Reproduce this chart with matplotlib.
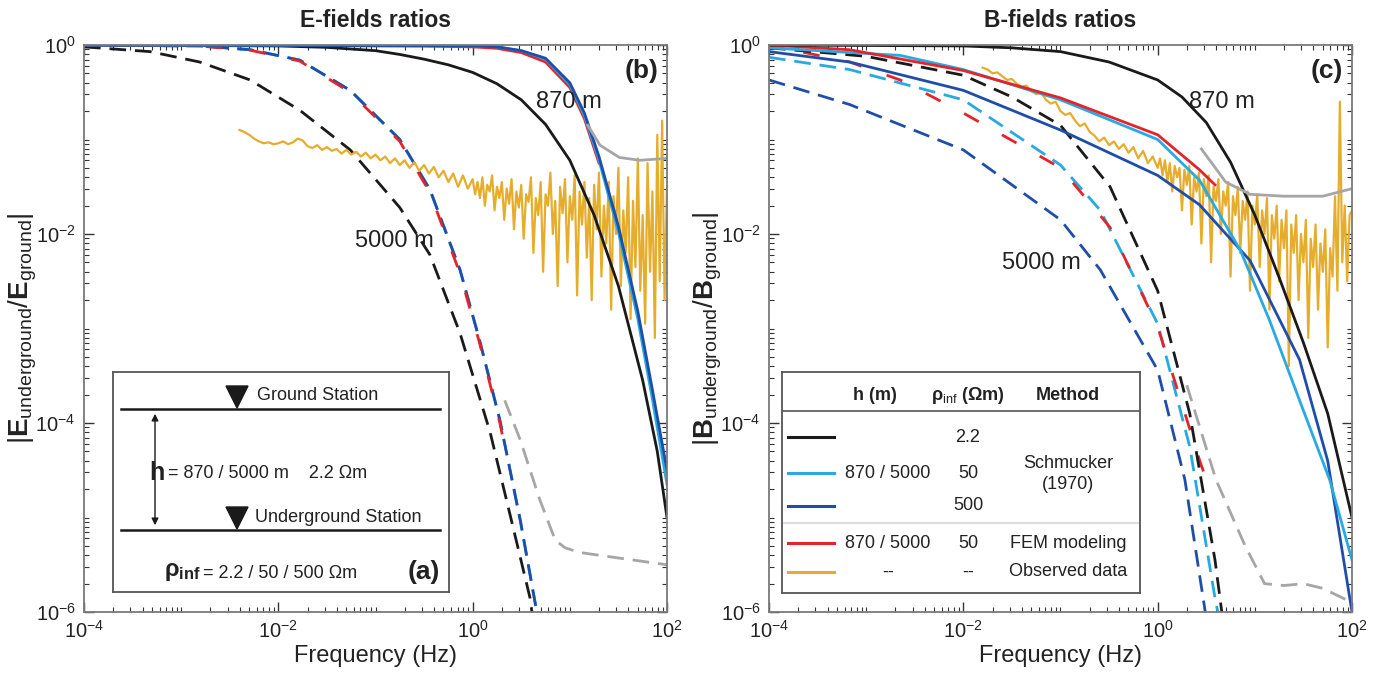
import numpy as np
import matplotlib
matplotlib.use("Agg")
import matplotlib.pyplot as plt
from matplotlib.ticker import FixedLocator, NullFormatter, LogFormatterSciNotation
from matplotlib.patches import Polygon

plt.rcParams['font.family'] = ['Liberation Sans', 'DejaVu Sans']
plt.rcParams['mathtext.fontset'] = 'custom'
plt.rcParams['mathtext.rm'] = 'Liberation Sans'
plt.rcParams['mathtext.it'] = 'Liberation Sans:italic'
plt.rcParams['mathtext.bf'] = 'Liberation Sans:bold'

C_BLACK = '#1a1a1a'
C_LBLUE = '#29a9e1'
C_BLUE = '#1f4ea8'
C_RED = '#e5232a'
C_ORANGE = '#e6ad2c'
C_GRAY = '#a6a6a6'

# tick values
X_MAJOR = [1e-4, 1e-2, 1e0, 1e2]
Y_MAJOR = [1e-6, 1e-4, 1e-2, 1e0]

# ================= E-field panel (log10 frequency, log10 ratio) =================
E_sol_blk_lf = [-4, -2, -1.5, -1, -0.75, -0.5, -0.25, 0, 0.25, 0.5, 0.75, 1.0, 1.25, 1.5, 1.75, 1.9, 2.0]
E_sol_blk_lv = [0, -0.01, -0.025, -0.06, -0.1, -0.15, -0.21, -0.29, -0.41, -0.58, -0.84, -1.22, -1.8,
                -2.55, -3.55, -4.3, -5.0]
E_sol_blu_lf = [-4, 0, 0.25, 0.5, 0.75, 1.0, 1.15, 1.3, 1.5, 1.7, 1.85, 2.0]
E_sol_blu_lv = [0, -0.01, -0.02, -0.06, -0.14, -0.4, -0.72, -1.18, -1.92, -2.82, -3.65, -4.5]
E_sol_lbl_lv = [0, -0.01, -0.02, -0.06, -0.15, -0.42, -0.75, -1.22, -1.98, -2.9, -3.75, -4.65]
E_sol_red_lf = [-4, -0.5, 0, 0.25, 0.5, 0.75, 1.0, 1.15, 1.3]
E_sol_red_lv = [0, -0.01, -0.02, -0.035, -0.08, -0.18, -0.45, -0.78, -1.25]
E_sol_gry_lf = [1.185, 1.31, 1.51, 1.72, 2.0]
E_sol_gry_lv = [-0.85, -1.06, -1.19, -1.22, -1.2]

E_das_blk_lf = [-4, -3.32, -2.81, -2.29, -1.78, -1.26, -0.75, -0.44, -0.13, 0.18, 0.38, 0.59, 0.61]
E_das_blk_lv = [-0.02, -0.07, -0.18, -0.37, -0.69, -1.11, -1.72, -2.22, -3.05, -4.1, -4.95, -5.85, -6.0]
E_das_col_lf = [-4, -2.8, -2.29, -1.78, -1.26, -0.75, -0.44, -0.13, 0.07, 0.28, 0.49, 0.66]
E_das_blu_lv = [0, -0.01, -0.05, -0.16, -0.48, -1.0, -1.53, -2.38, -3.12, -3.97, -5.03, -6.0]
E_das_lbl_lv = [0, -0.01, -0.05, -0.16, -0.48, -1.0, -1.53, -2.38, -3.12, -3.97, -5.03, -6.0]
E_das_red_lf = [-4, -2.8, -2.29, -1.78, -1.26, -0.75, -0.44, -0.13, 0.07, 0.28, 0.33]
E_das_red_lv = [0, -0.012, -0.055, -0.17, -0.5, -1.02, -1.56, -2.42, -3.15, -4.0, -4.25]
E_das_gry_lf = [0.33, 0.49, 0.69, 0.85, 0.95, 1.1, 1.51, 2.0]
E_das_gry_lv = [-3.76, -4.18, -4.81, -5.24, -5.32, -5.37, -5.43, -5.5]

E_obs_lf = [-2.40, -2.35, -2.30, -2.25, -2.20, -2.15, -2.10, -2.05, -2.00, -1.95, -1.90, -1.85,
            -1.80, -1.75, -1.70, -1.65, -1.60, -1.55, -1.50, -1.45, -1.40, -1.35, -1.30, -1.25,
            -1.20, -1.15, -1.10, -1.05, -1.00, -0.95, -0.90, -0.85, -0.80, -0.75, -0.70, -0.65,
            -0.60, -0.55, -0.50, -0.45, -0.40, -0.35, -0.30, -0.25, -0.20, -0.15, -0.10, -0.05,
            0.000, 0.025, 0.050, 0.075, 0.100, 0.125, 0.150, 0.175, 0.200, 0.225, 0.250, 0.275,
            0.300, 0.325, 0.350, 0.375, 0.400, 0.425, 0.450, 0.475, 0.500, 0.525, 0.550, 0.575,
            0.600, 0.625, 0.650, 0.675, 0.700, 0.725, 0.750, 0.775, 0.800, 0.825, 0.850, 0.875,
            0.900, 0.925, 0.950, 0.975, 1.000, 1.025, 1.050, 1.075, 1.100, 1.125, 1.150, 1.175,
            1.200, 1.225, 1.250, 1.275, 1.300, 1.325, 1.350, 1.375, 1.400, 1.425, 1.450, 1.475,
            1.500, 1.525, 1.550, 1.575, 1.600, 1.625, 1.650, 1.675, 1.700, 1.725, 1.750, 1.775,
            1.800, 1.825, 1.850, 1.875, 1.900, 1.925, 1.950, 1.975, 2.000]
E_obs_lv = [-0.90, -0.92, -0.95, -0.99, -1.02, -1.04, -1.03, -1.05, -1.04, -1.02, -1.05, -1.03,
            -0.99, -1.01, -1.07, -1.09, -1.06, -1.11, -1.08, -1.12, -1.10, -1.15, -1.11, -1.16,
            -1.13, -1.18, -1.14, -1.20, -1.16, -1.22, -1.18, -1.25, -1.20, -1.27, -1.22, -1.30,
            -1.24, -1.33, -1.27, -1.36, -1.29, -1.40, -1.33, -1.45, -1.36, -1.50, -1.38, -1.52,
            -1.42, -1.58, -1.45, -1.62, -1.40, -1.70, -1.48, -1.55, -1.38, -1.75, -1.50, -1.62,
            -1.45, -1.85, -1.52, -1.68, -1.42, -1.95, -1.55, -1.72, -1.48, -2.05, -1.58, -1.66,
            -1.40, -2.20, -1.62, -1.80, -1.45, -2.40, -1.58, -1.70, -1.35, -2.00, -1.65, -2.55,
            -1.50, -1.78, -1.42, -2.30, -1.60, -1.85, -1.38, -2.65, -1.55, -1.90, -1.45, -2.25,
            -1.62, -2.70, -1.48, -1.95, -1.35, -2.45, -1.70, -2.10, -1.45, -2.80, -1.60, -2.00,
            -1.30, -2.55, -1.75, -2.20, -1.40, -2.90, -1.65, -2.35, -1.20, -2.60, -1.80, -2.95,
            -1.25, -2.40, -1.55, -3.10, -0.95, -2.50, -0.80, -2.70, -1.50]

# ================= B-field panel =================
B_sol_blk_lf = [-4, -2, -1.5, -1, -0.5, 0, 0.25, 0.5, 0.75, 1.0, 1.25, 1.5, 1.75, 2.0]
B_sol_blk_lv = [0, -0.01, -0.03, -0.07, -0.18, -0.37, -0.55, -0.82, -1.24, -1.8, -2.46, -3.15, -3.9, -5.0]
B_sol_lbl_lf = [-4, -2.65, -2, -1, 0, 0.43, 0.85, 1.15, 1.46, 1.77, 2.0]
B_sol_lbl_lv = [-0.03, -0.11, -0.26, -0.58, -1.0, -1.43, -2.17, -2.91, -3.76, -4.6, -5.45]
B_sol_red_lf = [-4, -3.17, -2, -1, 0, 0.43, 0.59]
B_sol_red_lv = [0, -0.05, -0.27, -0.56, -0.95, -1.32, -1.48]
B_sol_blu_lf = [-4, -3.17, -2, -1, 0, 0.43, 0.95, 1.46, 1.75, 2.0]
B_sol_blu_lv = [-0.07, -0.18, -0.48, -0.9, -1.38, -1.69, -2.28, -3.33, -4.4, -6.0]
B_sol_gry_lf = [0.45, 0.7, 0.95, 1.3, 1.7, 2.0]
B_sol_gry_lv = [-1.1, -1.45, -1.58, -1.6, -1.6, -1.52]

B_das_blk_lf = [-4, -3, -2, -1.5, -1, -0.49, 0, 0.33, 0.59, 0.66]
B_das_blk_lv = [-0.03, -0.12, -0.32, -0.55, -0.85, -1.5, -2.6, -3.9, -5.45, -6.0]
B_das_lbl_lf = [-4, -3.17, -2, -1, -0.59, 0, 0.33, 0.59, 0.62]
B_das_lbl_lv = [-0.13, -0.26, -0.58, -1.27, -1.75, -2.95, -4.25, -5.85, -6.0]
B_das_red_lf = [-4, -3.17, -2.65, -2, -1, -0.49, 0, 0.43, 0.55]
B_das_red_lv = [0, -0.18, -0.37, -0.72, -1.3, -1.93, -2.98, -4.39, -4.75]
B_das_blu_lf = [-4, -3.17, -2, -1, -0.59, 0, 0.28, 0.49]
B_das_blu_lv = [-0.37, -0.63, -1.11, -1.85, -2.38, -3.44, -4.6, -6.0]
B_das_gry_lf = [0.3, 0.6, 0.9, 1.1, 1.3, 1.5, 1.7, 2.0]
B_das_gry_lv = [-3.6, -4.6, -5.3, -5.7, -5.72, -5.7, -5.75, -5.9]

B_obs_lf = [-1.80, -1.75, -1.70, -1.65, -1.60, -1.55, -1.50, -1.45, -1.40, -1.35, -1.30, -1.25,
            -1.20, -1.15, -1.10, -1.05, -1.00, -0.95, -0.90, -0.85, -0.80, -0.75, -0.70, -0.65,
            -0.60, -0.55, -0.50, -0.45, -0.40, -0.35, -0.30, -0.25, -0.20, -0.15, -0.10, -0.05,
            0.000, 0.025, 0.050, 0.075, 0.100, 0.125, 0.150, 0.175, 0.200, 0.225, 0.250, 0.275,
            0.300, 0.325, 0.350, 0.375, 0.400, 0.425, 0.450, 0.475, 0.500, 0.525, 0.550, 0.575,
            0.600, 0.625, 0.650, 0.675, 0.700, 0.725, 0.750, 0.775, 0.800, 0.825, 0.850, 0.875,
            0.900, 0.925, 0.950, 0.975, 1.000, 1.025, 1.050, 1.075, 1.100, 1.125, 1.150, 1.175,
            1.200, 1.225, 1.250, 1.275, 1.300, 1.325, 1.350, 1.375, 1.400, 1.425, 1.450, 1.475,
            1.500, 1.525, 1.550, 1.575, 1.600, 1.625, 1.650, 1.675, 1.700, 1.725, 1.750, 1.775,
            1.800, 1.825, 1.850, 1.875, 1.900, 1.925, 1.950, 1.975, 2.000]
B_obs_lv = [-0.24, -0.26, -0.30, -0.29, -0.33, -0.37, -0.36, -0.41, -0.44, -0.43, -0.49, -0.52,
            -0.50, -0.58, -0.62, -0.60, -0.70, -0.74, -0.72, -0.80, -0.86, -0.83, -0.92, -0.96,
            -1.02, -0.98, -1.06, -1.02, -1.10, -1.05, -1.14, -1.08, -1.20, -1.12, -1.25, -1.18,
            -1.30, -1.20, -1.38, -1.22, -1.45, -1.25, -1.55, -1.28, -1.40, -1.30, -1.75, -1.32,
            -1.48, -1.28, -1.90, -1.40, -1.55, -1.35, -2.10, -1.42, -1.60, -1.38, -2.30, -1.50,
            -1.65, -1.42, -2.00, -1.55, -1.70, -1.45, -2.45, -1.60, -1.80, -1.50, -2.20, -1.65,
            -1.85, -1.55, -2.60, -1.70, -1.90, -1.58, -2.35, -1.75, -2.00, -1.62, -2.80, -1.80,
            -2.05, -1.70, -2.50, -1.85, -2.15, -1.75, -3.40, -1.90, -2.20, -1.80, -2.70, -2.00,
            -2.30, -1.85, -3.10, -2.05, -2.35, -1.90, -2.80, -2.10, -2.40, -1.95, -3.20, -2.15,
            -2.45, -1.60, -2.60, -0.60, -2.30, -1.70, -2.50, -1.80, -1.75]


def pw(lv):
    return np.power(10.0, np.asarray(lv, dtype=float))


def minor_ticks(lo_exp, hi_exp):
    vals = []
    for e in range(lo_exp, hi_exp):
        for m in range(1, 10):
            v = m * 10.0 ** e
            vals.append(v)
    vals.append(10.0 ** hi_exp)
    return vals


fig = plt.figure(figsize=(13.8, 6.85), dpi=100)
W, H = 1380.0, 685.0


def px_axes(x0, y0, x1, y1):
    return fig.add_axes([x0 / W, 1 - y1 / H, (x1 - x0) / W, (y1 - y0) / H])


ax1 = px_axes(84, 45, 667, 612)
ax2 = px_axes(769, 45, 1352, 612)

LW = 2.0
DASH = (0, (6, 3.2))

# E panel curves
ax1.plot(pw(E_das_blk_lf), pw(E_das_blk_lv), color=C_BLACK, lw=LW, ls=DASH)
ax1.plot(pw(E_das_col_lf), pw(E_das_lbl_lv), color=C_LBLUE, lw=LW, ls=DASH)
ax1.plot(pw(E_das_col_lf), pw(E_das_blu_lv), color=C_BLUE, lw=LW, ls=DASH)
ax1.plot(pw(E_das_red_lf), pw(E_das_red_lv), color=C_RED, lw=LW, ls=(3, (6, 9.6)))
ax1.plot(pw(E_das_gry_lf), pw(E_das_gry_lv), color=C_GRAY, lw=LW, ls=DASH)
ax1.plot(pw(E_obs_lf), pw(E_obs_lv), color=C_ORANGE, lw=1.6)
ax1.plot(pw(E_sol_blk_lf), pw(E_sol_blk_lv), color=C_BLACK, lw=LW)
ax1.plot(pw(E_sol_red_lf), pw(E_sol_red_lv), color=C_RED, lw=LW)
ax1.plot(pw(E_sol_blu_lf), pw(E_sol_lbl_lv), color=C_LBLUE, lw=LW)
ax1.plot(pw(E_sol_blu_lf), pw(E_sol_blu_lv), color=C_BLUE, lw=LW)
ax1.plot(pw(E_sol_gry_lf), pw(E_sol_gry_lv), color=C_GRAY, lw=LW)

# B panel curves
ax2.plot(pw(B_das_blu_lf), pw(B_das_blu_lv), color=C_BLUE, lw=LW, ls=DASH)
ax2.plot(pw(B_das_lbl_lf), pw(B_das_lbl_lv), color=C_LBLUE, lw=LW, ls=DASH)
ax2.plot(pw(B_das_red_lf), pw(B_das_red_lv), color=C_RED, lw=LW, ls=(3, (6, 9.6)))
ax2.plot(pw(B_das_blk_lf), pw(B_das_blk_lv), color=C_BLACK, lw=LW, ls=DASH)
ax2.plot(pw(B_das_gry_lf), pw(B_das_gry_lv), color=C_GRAY, lw=LW, ls=DASH)
ax2.plot(pw(B_obs_lf), pw(B_obs_lv), color=C_ORANGE, lw=1.6)
ax2.plot(pw(B_sol_blu_lf), pw(B_sol_blu_lv), color=C_BLUE, lw=LW)
ax2.plot(pw(B_sol_lbl_lf), pw(B_sol_lbl_lv), color=C_LBLUE, lw=LW)
ax2.plot(pw(B_sol_red_lf), pw(B_sol_red_lv), color=C_RED, lw=LW)
ax2.plot(pw(B_sol_blk_lf), pw(B_sol_blk_lv), color=C_BLACK, lw=LW)
ax2.plot(pw(B_sol_gry_lf), pw(B_sol_gry_lv), color=C_GRAY, lw=LW)

for ax in (ax1, ax2):
    ax.set_xscale('log')
    ax.set_yscale('log')
    ax.set_xlim(1e-4, 1e2)
    ax.set_ylim(1e-6, 1.0)
    ax.xaxis.set_major_locator(FixedLocator(X_MAJOR))
    ax.yaxis.set_major_locator(FixedLocator(Y_MAJOR))
    ax.xaxis.set_minor_locator(FixedLocator(minor_ticks(-4, 2)))
    ax.yaxis.set_minor_locator(FixedLocator(minor_ticks(-6, 0)))
    ax.xaxis.set_minor_formatter(NullFormatter())
    ax.yaxis.set_minor_formatter(NullFormatter())
    ax.xaxis.set_major_formatter(LogFormatterSciNotation())
    ax.yaxis.set_major_formatter(LogFormatterSciNotation())
    ax.tick_params(which='both', direction='in', top=True, right=True, colors='#333333',
                   labelsize=14.5, labelcolor='#222222')
    ax.tick_params(which='major', length=7, width=1.0, pad=6)
    ax.tick_params(which='minor', length=3.5, width=0.8)
    for s in ax.spines.values():
        s.set_color('#7a7a7a')
        s.set_linewidth(1.3)
    ax.set_xlabel('Frequency (Hz)', fontsize=17, color='#222222', labelpad=2)

ax1.set_title('E-fields ratios', fontsize=16.5, fontweight='bold', color='#222222', pad=13)
ax2.set_title('B-fields ratios', fontsize=16.5, fontweight='bold', color='#222222', pad=13)
ax1.set_ylabel(r'$|\mathbf{E}_{\mathrm{underground}}/\mathbf{E}_{\mathrm{ground}}|$', fontsize=20,
               color='#222222')
ax2.set_ylabel(r'$|\mathbf{B}_{\mathrm{underground}}/\mathbf{B}_{\mathrm{ground}}|$', fontsize=20,
               color='#222222')
for ax in (ax1, ax2):
    ax.yaxis.label.set_va('center')
    ax.yaxis.set_label_coords(-0.105, 0.5)

ax1.text(0.985, 0.975, '(b)', transform=ax1.transAxes, fontsize=19, fontweight='bold',
         ha='right', va='top', color='#222222')
ax2.text(0.985, 0.975, '(c)', transform=ax2.transAxes, fontsize=19, fontweight='bold',
         ha='right', va='top', color='#222222')
ax1.text(0.775, 0.90, '870 m', transform=ax1.transAxes, fontsize=17, color='#222222', va='center')
ax1.text(0.465, 0.655, '5000 m', transform=ax1.transAxes, fontsize=17, color='#222222', va='center')
ax2.text(0.72, 0.90, '870 m', transform=ax2.transAxes, fontsize=17, color='#222222', va='center')
ax2.text(0.40, 0.615, '5000 m', transform=ax2.transAxes, fontsize=17, color='#222222', va='center')

# ---------------- inset schematic (a) ----------------
ia = px_axes(113, 372, 449, 592)
ia.set_xlim(113, 449)
ia.set_ylim(592, 372)
ia.set_xticks([])
ia.set_yticks([])
for s in ia.spines.values():
    s.set_color('#555555')
    s.set_linewidth(1.3)
ia.set_facecolor('white')
ia.plot([121, 440], [409, 409], color=C_BLACK, lw=1.8)
ia.plot([121, 440], [530, 530], color=C_BLACK, lw=1.8)
ia.add_patch(Polygon([[226, 386], [248, 386], [237, 408]], closed=True, color=C_BLACK))
ia.add_patch(Polygon([[226, 507], [248, 507], [237, 529]], closed=True, color=C_BLACK))
ia.text(257, 396, 'Ground Station', fontsize=13, va='center', color='#222222')
ia.text(255, 518, 'Underground Station', fontsize=13, va='center', color='#222222')
ia.annotate('', xy=(155, 411), xytext=(155, 528),
            arrowprops=dict(arrowstyle='<|-|>', color=C_BLACK, lw=1.0, mutation_scale=10))
ia.plot([155, 155], [455, 490], color='white', lw=8)
ia.text(149, 473, r'$\mathbf{h}$', fontsize=18, va='center', color='#222222')
ia.text(168, 474, '= 870 / 5000 m    2.2 \u03a9m', fontsize=13, va='center', color='#222222')
ia.text(164, 572, r'$\mathbf{\rho}_{\mathbf{inf}}$', fontsize=17, va='center', color='#222222')
ia.text(203, 574, '= 2.2 / 50 / 500 \u03a9m', fontsize=13, va='center', color='#222222')
ia.text(440, 572, '(a)', fontsize=19, fontweight='bold', va='center', ha='right', color='#222222')

# ---------------- legend table (c) ----------------
lg = px_axes(782, 372, 1140, 593)
lg.set_xlim(782, 1140)
lg.set_ylim(593, 372)
lg.set_xticks([])
lg.set_yticks([])
for s in lg.spines.values():
    s.set_color('#555555')
    s.set_linewidth(1.3)
lg.set_facecolor('white')
lg.plot([782, 1140], [411, 411], color='#555555', lw=1.2)
lg.plot([782, 1140], [523, 523], color='#dddddd', lw=1.5)
lg.text(875, 396, 'h (m)', fontsize=13, fontweight='bold', ha='center', va='center', color='#222222')
lg.text(968, 396, r'$\mathbf{\rho}_{\mathrm{inf}}$ (' + '\u03a9m)', fontsize=13,
        fontweight='bold', ha='center', va='center', color='#222222')
lg.text(1068, 396, 'Method', fontsize=13, fontweight='bold', ha='center', va='center', color='#222222')
rows_y = [437, 473, 506, 543, 572]
rows_c = [C_BLACK, C_LBLUE, C_BLUE, C_RED, C_ORANGE]
for yy, cc in zip(rows_y, rows_c):
    lg.plot([788, 834], [yy, yy], color=cc, lw=2.2)
lg.text(968, 437, '2.2', fontsize=13, ha='center', va='center', color='#222222')
lg.text(888, 474, '870 / 5000', fontsize=13, ha='center', va='center', color='#222222')
lg.text(968, 474, '50', fontsize=13, ha='center', va='center', color='#222222')
lg.text(968, 506, '500', fontsize=13, ha='center', va='center', color='#222222')
lg.text(1068, 474, 'Schmucker\n(1970)', fontsize=13, ha='center', va='center', color='#222222',
        linespacing=1.3)
lg.text(888, 543, '870 / 5000', fontsize=13, ha='center', va='center', color='#222222')
lg.text(968, 543, '50', fontsize=13, ha='center', va='center', color='#222222')
lg.text(1068, 543, 'FEM modeling', fontsize=13, ha='center', va='center', color='#222222')
lg.text(888, 572, '--', fontsize=13, ha='center', va='center', color='#222222')
lg.text(968, 572, '--', fontsize=13, ha='center', va='center', color='#222222')
lg.text(1068, 572, 'Observed data', fontsize=13, ha='center', va='center', color='#222222')

fig.savefig('out.png', dpi=100, facecolor='white')
